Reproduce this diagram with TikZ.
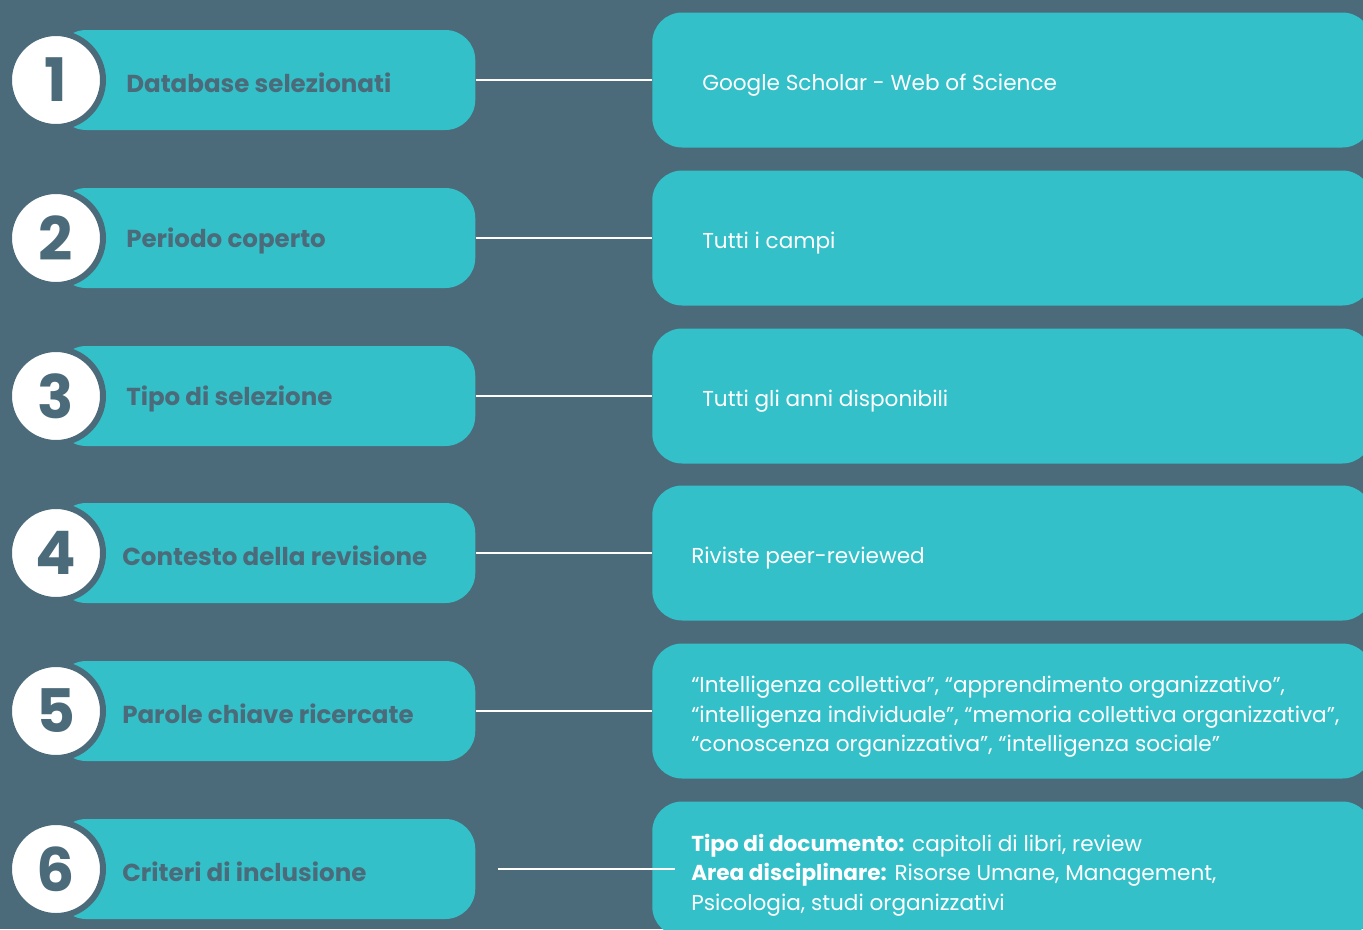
\documentclass[tikz,border=0pt]{standalone}
\usepackage{fontspec}
\setmainfont{Poppins}
\usetikzlibrary{calc}
\definecolor{slate}{RGB}{75,107,122}
\definecolor{tealbox}{RGB}{51,192,201}
\tikzset{
  pill/.style={fill=tealbox, rounded corners=22.5pt, minimum width=314.25pt,
    minimum height=75pt, inner sep=0pt, anchor=west},
  infobox/.style={fill=tealbox, rounded corners=22.5pt, minimum width=540pt,
    minimum height=101.25pt, inner sep=0pt, anchor=west},
  badge/.style={circle, fill=white, draw=slate, line width=4.5pt,
    minimum size=70.5pt, inner sep=0pt, text=slate,
    font=\fontsize{45}{45}\selectfont\bfseries},
  steptext/.style={anchor=west, inner sep=0pt, text=slate,
    font=\fontsize{18.4}{22}\selectfont\bfseries},
  infotext/.style={anchor=west, inner sep=0pt, text=white, align=left,
    font=\fontsize{16.2}{22}\selectfont},
  link/.style={draw=white, line width=1.6pt}
}
\begin{document}
\begin{tikzpicture}[x=0.75pt, y=-0.75pt]
  \fill[slate] (0,0) rectangle (1363,929);
  \useasboundingbox (0,0) rectangle (1363,929);
  \clip (0,0) rectangle (1363,929);

  % step pills and their detail boxes
  \foreach \i/\cy in {1/80, 2/238, 3/396, 4/553, 5/711, 6/869} {
    \node[pill] (p\i) at (56,\cy) {};
    \node[infobox] (b\i) at (652,\cy) {};
  }

  % connectors between each step and its detail box
  \draw[link] (p1.east) -- (b1.west);
  \draw[link] (p2.east) -- (b2.west);
  \draw[link] (p3.east) -- (b3.west);
  \draw[link] (p4.east) -- (b4.west);
  \draw[link] (p5.east) -- (b5.west);
  \draw[link] ($(p6.east)+(22,0)$) -- ($(b6.west)+(23,0)$);

  % numbered badges
  \foreach \i/\cy in {1/80, 2/238, 3/396, 4/553, 5/711, 6/869} {
    \node[badge] (n\i) at (56,\cy) {\i};
  }

  % step titles
  \node[steptext] (l1) at ($(p1.west)+(70,3)$) {Database selezionati};
  \node[steptext] (l2) at ($(p2.west)+(70,3)$) {Periodo coperto};
  \node[steptext] (l3) at ($(p3.west)+(70,3)$) {Tipo di selezione};
  \node[steptext] (l4) at ($(p4.west)+(66,3)$) {Contesto della revisione};
  \node[steptext] (l5) at ($(p5.west)+(66,3)$) {Parole chiave ricercate};
  \node[steptext] (l6) at ($(p6.west)+(66,3)$) {Criteri di inclusione};

  % details
  \node[infotext] (t1) at ($(b1.west)+(50,5)$) {Google Scholar - Web of Science};
  \node[infotext] (t2) at ($(b2.west)+(50,5)$) {Tutti i campi};
  \node[infotext] (t3) at ($(b3.west)+(50,5)$) {Tutti gli anni disponibili};
  \node[infotext] (t4) at ($(b4.west)+(39,5)$) {Riviste peer-reviewed};
  \node[infotext] (t5) at ($(b5.west)+(39,6)$)
    {“Intelligenza collettiva”, “apprendimento organizzativo”,\\
     “intelligenza individuale”, “memoria collettiva organizzativa”,\\
     “conoscenza organizzativa”, “intelligenza sociale”};
  \node[infotext] (t6) at ($(b6.west)+(39,6)$)
    {\textbf{Tipo di documento:} capitoli di libri, review\\
     \textbf{Area disciplinare:} Risorse Umane, Management,\\
     Psicologia, studi organizzativi};
\end{tikzpicture}
\end{document}
